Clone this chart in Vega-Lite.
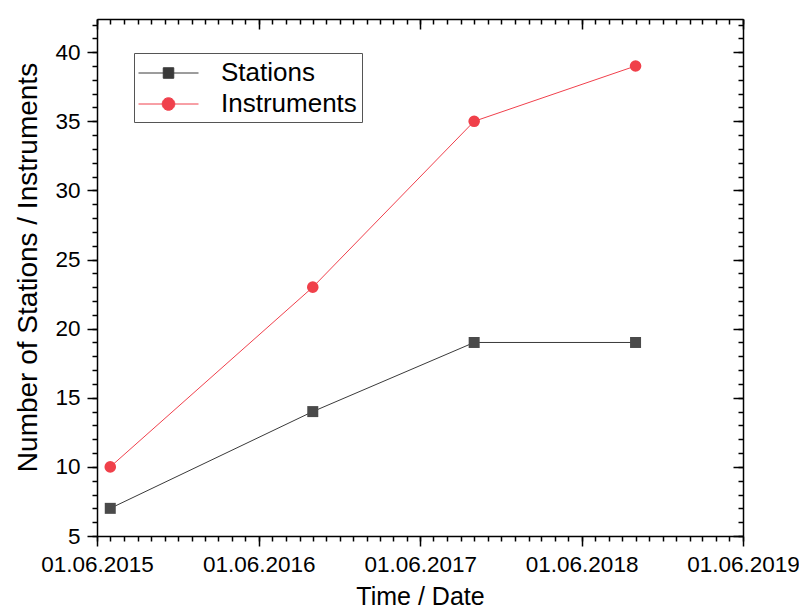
{
  "$schema": "https://vega.github.io/schema/vega-lite/v6.json",
  "autosize": "none",
  "width": 646,
  "height": 517,
  "padding": {"left": 97, "top": 19, "right": 56, "bottom": 76},
  "background": "white",
  "config": {
    "view": {"stroke": null},
    "font": "Liberation Sans",
    "axis": {"grid": false, "domainColor": "black", "tickColor": "black", "domainWidth": 1.5, "tickWidth": 1.5, "labelColor": "black", "titleColor": "black", "labelFont": "Liberation Sans", "titleFont": "Liberation Sans", "titleFontWeight": "normal"},
    "legend": {
      "orient": "none", "legendX": 37, "legendY": 34, "title": null,
      "strokeColor": "#555555", "padding": 4.5, "fillColor": "white",
      "labelFontSize": 26, "labelFont": "Liberation Sans", "labelColor": "black", "labelOffset": 37, "rowPadding": 2,
      "symbolSize": 900, "symbolStrokeWidth": 1, "symbolOffset": 14.5, "symbolOpacity": 1
    }
  },
  "data": {
    "values": [
      {"date": "2015-07-01", "series": "Stations", "count": 7},
      {"date": "2016-10-01", "series": "Stations", "count": 14},
      {"date": "2017-10-01", "series": "Stations", "count": 19},
      {"date": "2018-10-01", "series": "Stations", "count": 19},
      {"date": "2015-07-01", "series": "Instruments", "count": 10},
      {"date": "2016-10-01", "series": "Instruments", "count": 23},
      {"date": "2017-10-01", "series": "Instruments", "count": 35},
      {"date": "2018-10-01", "series": "Instruments", "count": 39}
    ]
  },
  "resolve": {"axis": {"x": "independent", "y": "independent"}},
  "layer": [
    {
      "mark": {"type": "line", "strokeWidth": 1},
      "encoding": {
        "x": {"field": "date", "type": "temporal",
          "scale": {"type": "utc", "domain": [{"year": 2015, "month": 6, "date": 1, "utc": true}, {"year": 2019, "month": 6, "date": 1, "utc": true}]},
          "axis": {"orient": "bottom", "title": "Time / Date", "format": "%d.%m.%Y", "labelFontSize": 22.5, "titleFontSize": 25, "tickSize": 10, "labelPadding": 7, "titlePadding": 9, "labelFlush": false, "labelOverlap": false,
            "values": [{"year": 2015, "month": 6, "date": 1, "utc": true}, {"year": 2016, "month": 6, "date": 1, "utc": true}, {"year": 2017, "month": 6, "date": 1, "utc": true}, {"year": 2018, "month": 6, "date": 1, "utc": true}, {"year": 2019, "month": 6, "date": 1, "utc": true}]}},
        "y": {"field": "count", "type": "quantitative",
          "scale": {"domain": [5, 42.4], "nice": false, "zero": false},
          "axis": {"orient": "left", "title": "Number of Stations / Instruments", "values": [5, 10, 15, 20, 25, 30, 35, 40], "labelFontSize": 22.5, "titleFontSize": 28, "tickSize": 10, "labelPadding": 7, "titlePadding": 12, "titleY": 248}},
        "color": {"field": "series", "type": "nominal", "scale": {"domain": ["Stations", "Instruments"], "range": ["#3a3a3a", "#f0404c"]}}
      }
    },
    {
      "transform": [{"filter": "datum.series === 'Stations'"}],
      "mark": {"type": "point", "shape": "square", "filled": true, "opacity": 1, "size": 121, "color": "#4a4a4a"},
      "encoding": {
        "x": {"field": "date", "type": "temporal",
          "axis": {"orient": "bottom", "title": null, "labels": false, "domain": false, "tickSize": 5, "tickCount": {"interval": "month", "step": 1}}},
        "y": {"field": "count", "type": "quantitative",
          "axis": {"orient": "left", "title": null, "labels": false, "domain": false, "tickSize": 5, "values": [5,6,7,8,9,10,11,12,13,14,15,16,17,18,19,20,21,22,23,24,25,26,27,28,29,30,31,32,33,34,35,36,37,38,39,40,41,42]}}
      }
    },
    {
      "transform": [{"filter": "datum.series === 'Instruments'"}],
      "mark": {"type": "point", "shape": "circle", "filled": true, "opacity": 1, "size": 135, "color": "#f0404a"},
      "encoding": {
        "x": {"field": "date", "type": "temporal", "axis": null},
        "y": {"field": "count", "type": "quantitative", "axis": null}
      }
    },
    {
      "transform": [{"filter": "datum.count < 0"}],
      "mark": {"type": "point", "filled": true, "strokeWidth": 1, "opacity": 1},
      "encoding": {
        "x": {"field": "date", "type": "temporal",
          "axis": {"orient": "top", "title": null, "labels": false, "tickSize": -10,
            "values": [{"year": 2015, "month": 6, "date": 1, "utc": true}, {"year": 2016, "month": 6, "date": 1, "utc": true}, {"year": 2017, "month": 6, "date": 1, "utc": true}, {"year": 2018, "month": 6, "date": 1, "utc": true}, {"year": 2019, "month": 6, "date": 1, "utc": true}]}},
        "y": {"field": "count", "type": "quantitative",
          "axis": {"orient": "right", "title": null, "labels": false, "tickSize": -10, "values": [5, 10, 15, 20, 25, 30, 35, 40]}},
        "color": {"field": "series", "type": "nominal"},
        "stroke": {"field": "series", "type": "nominal", "scale": {"domain": ["Stations", "Instruments"], "range": ["#3a3a3a", "#f0404c"]}},
        "shape": {"field": "series", "type": "nominal", "scale": {"domain": ["Stations", "Instruments"], "range": ["M-2,0H2M-0.35,-0.35H0.35V0.35H-0.35Z", "M-2,0H2M-0.42,0A0.42,0.42,0,1,1,0.42,0A0.42,0.42,0,1,1,-0.42,0Z"]}}
      }
    },
    {
      "transform": [{"filter": "datum.count < 0"}],
      "mark": {"type": "point"},
      "encoding": {
        "x": {"field": "date", "type": "temporal",
          "axis": {"orient": "top", "title": null, "labels": false, "domain": false, "tickSize": -5, "tickCount": {"interval": "month", "step": 1}}},
        "y": {"field": "count", "type": "quantitative",
          "axis": {"orient": "right", "title": null, "labels": false, "domain": false, "tickSize": -5, "values": [5,6,7,8,9,10,11,12,13,14,15,16,17,18,19,20,21,22,23,24,25,26,27,28,29,30,31,32,33,34,35,36,37,38,39,40,41,42]}}
      }
    }
  ]
}
